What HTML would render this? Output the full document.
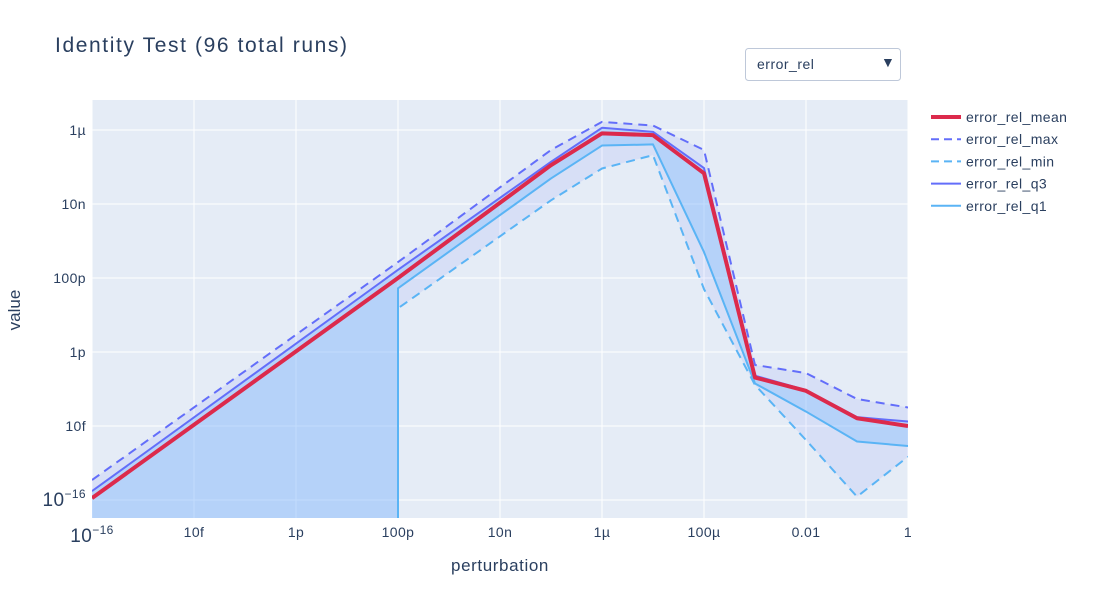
<!DOCTYPE html>
<html><head><meta charset="utf-8"><style>
body{margin:0;background:#fff;font-family:"Liberation Sans",Arial,sans-serif}
#wrap{position:relative;width:1100px;height:600px}
</style></head><body>
<div id="wrap">
<svg id="chart" width="1100" height="600" xmlns="http://www.w3.org/2000/svg">
<defs><clipPath id="clip"><rect x="92" y="100" width="816" height="418"/></clipPath></defs>
<rect x="92" y="100" width="816" height="418" fill="#e5ecf6"/>
<g id="grid"></g>
<g id="fills" clip-path="url(#clip)"></g>
<g id="lines" clip-path="url(#clip)"></g>
<g id="ticks" font-size="14" fill="#2a3f5f" letter-spacing="0.4"></g>
<text x="55" y="52" font-size="21" fill="#2a3f5f" letter-spacing="1" textLength="293">Identity Test (96 total runs)</text>
<text x="500" y="571" font-size="17" fill="#2a3f5f" text-anchor="middle" letter-spacing="0.6">perturbation</text>
<text x="20" y="310" font-size="17" fill="#2a3f5f" text-anchor="middle" transform="rotate(-90 20 310)">value</text>
<g>
<rect x="745.5" y="48.5" width="155" height="32" rx="3" fill="#fff" stroke="#bec8d9"/>
<text x="757" y="69" font-size="14" fill="#2a3f5f" letter-spacing="0.5">error_rel</text>
<text x="881" y="67" font-size="14" fill="#2a3f5f">▼</text>
</g>
<g id="legend" font-size="14" fill="#2a3f5f" letter-spacing="0.4"></g>
</svg>
</div>
<script>
const xs = [-16, -10, -7, -6, -5, -4, -3, -2, -1, 0];
const meanVals = [-15.95, -10.0, -6.95, -6.09, -6.14, -7.17, -12.69, -13.05, -13.79, -14.0];
const maxVals = [-15.46, -9.57, -6.54, -5.78, -5.88, -6.54, -12.35, -12.57, -13.27, -13.5];
const minVals = [null, -10.82, -7.9, -7.04, -6.68, -10.3, -12.89, -14.38, -15.91, -14.83];
const q3Vals = [-15.76, -9.78, -6.86, -5.94, -6.05, -7.03, -12.64, -13.03, -13.76, -13.88];
const q1Vals = [null, -10.28, -7.31, -6.42, -6.39, -9.3, -12.85, -13.61, -14.42, -14.54];
const xTickVals = [-16, -14, -12, -10, -8, -6, -4, -2, 0];
const xTickLabels = ["", "10f", "1p", "100p", "10n", "1µ", "100µ", "0.01", "1"];
const yTickVals = [-6, -8, -10, -12, -14, -16];
const yTickLabels = ["1µ", "10n", "100p", "1p", "10f", ""];

const X = v => 92 + (v + 16) * 51;
const Y = v => 130 - (v + 6) * 37;
const BOT = 540;
const NS = "http://www.w3.org/2000/svg";
function mk(tag, parent, attrs){const e=document.createElementNS(NS,tag);for(const k in attrs)e.setAttribute(k,attrs[k]);parent.appendChild(e);return e;}
const grid=document.getElementById('grid'), ticks=document.getElementById('ticks');
xTickVals.forEach((v,i)=>{
  const l=mk('line',grid,{x1:X(v),x2:X(v),y1:100,y2:518,stroke:'#fff','stroke-width':1});
  
  
  if(xTickLabels[i]){const t=mk('text',ticks,{x:X(v),y:537,'text-anchor':'middle'});t.textContent=xTickLabels[i];
  
  }
});
yTickVals.forEach((v,i)=>{
  const l=mk('line',grid,{x1:92,x2:908,y1:Y(v),y2:Y(v),stroke:'#fff','stroke-width':1});
  
  
  if(yTickLabels[i]){const t=mk('text',ticks,{x:86,y:Y(v)+5,'text-anchor':'end'});t.textContent=yTickLabels[i];
  
  }
});
const yb=mk('text',ticks,{x:86,y:506,'text-anchor':'end','font-size':'19'});
yb.innerHTML='10<tspan font-size="12" dy="-8">−16</tspan>';


const xb=mk('text',ticks,{x:92,y:542,'text-anchor':'middle','font-size':'19'});
xb.innerHTML='10<tspan font-size="12" dy="-8">−16</tspan>';



// zero values (null) on a log axis drop straight down to -infinity
function pts(arr){
  const out=[];
  for(let i=0;i<xs.length;i++){
    const v=arr[i];
    if(v===null){ out.push([X(xs[i]),BOT]); }
    else {
      if(i>0 && arr[i-1]===null) out.push([X(xs[i]),BOT]);
      out.push([X(xs[i]),Y(v)]);
    }
  }
  return out;
}
const str = p => p.map(q=>q[0]+','+q[1]).join(' ');
function band(up,lo,fill,name){
  const p=str(pts(up).concat(pts(lo).reverse()));
  const e=mk('polygon',document.getElementById('fills'),{points:p,fill:fill});
  
  
}
band(maxVals,minVals,'rgba(99,110,250,0.1)','min-max-band');
band(q3Vals,q1Vals,'rgba(140,195,252,0.45)','iqr-band');
const lines=document.getElementById('lines');
function line(arr,color,w,dash,name){
  const e=mk('polyline',lines,{points:str(pts(arr)),fill:'none',stroke:color,'stroke-width':w,'stroke-linejoin':'round'});
  if(dash)e.setAttribute('stroke-dasharray',dash);
  
  
}
line(minVals,'#5ab4f5',2,'9,6','error-rel-min-line');
line(maxVals,'#636efa',2,'9,6','error-rel-max-line');
line(q1Vals,'#5ab4f5',2,null,'error-rel-q1-line');
line(q3Vals,'#636efa',2,null,'error-rel-q3-line');
line(meanVals,'#dc2a4c',4,null,'error-rel-mean-line');

const leg=[['error_rel_mean','#dc2a4c',4,null],['error_rel_max','#636efa',2,'8,5'],['error_rel_min','#5ab4f5',2,'8,5'],['error_rel_q3','#636efa',2,null],['error_rel_q1','#5ab4f5',2,null]];
const lg=document.getElementById('legend');
leg.forEach((d,i)=>{
  const y=117+i*22.2;
  const g=mk('g',lg,{});
  
  
  const l=mk('line',g,{x1:931,x2:961,y1:y,y2:y,stroke:d[1],'stroke-width':d[2]});
  if(d[3])l.setAttribute('stroke-dasharray',d[3]);
  const t=mk('text',g,{x:966,y:y+5});t.textContent=d[0];
});
</script>
</body></html>
